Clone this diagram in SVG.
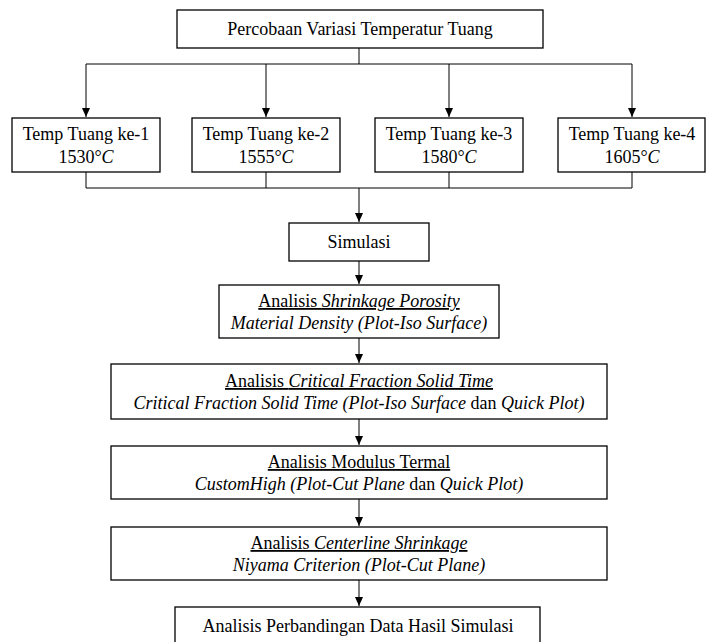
<svg xmlns="http://www.w3.org/2000/svg" width="707" height="642" viewBox="0 0 707 642">
<defs>
<style>
.box{fill:#fff;stroke:#000;stroke-width:1.3}
.c{fill:none;stroke:#000;stroke-width:1}
text{font-family:"Liberation Serif","Times New Roman",serif;font-size:18px;fill:#000;text-anchor:middle}
.i{font-style:italic}
.u{text-decoration:underline}
</style>
<marker id="ah" markerWidth="10" markerHeight="10" refX="9" refY="5" orient="auto" markerUnits="userSpaceOnUse">
<path d="M0,1 L9,5 L0,9 Z" fill="#000"/>
</marker>
</defs>
<rect width="707" height="642" fill="#fff"/>
<g id="connectors">
<path class="c" d="M359,48 V64 M86,64 H632"/>
<path class="c" d="M86,64 V117" marker-end="url(#ah)"/>
<path class="c" d="M266,64 V117" marker-end="url(#ah)"/>
<path class="c" d="M449,64 V117" marker-end="url(#ah)"/>
<path class="c" d="M632,64 V117" marker-end="url(#ah)"/>
<path class="c" d="M86,172 V188 M266,172 V188 M449,172 V188 M632,172 V188 M86,188 H632"/>
<path class="c" d="M359,188 V222" marker-end="url(#ah)"/>
<path class="c" d="M359,261 V284" marker-end="url(#ah)"/>
<path class="c" d="M359,338 V363" marker-end="url(#ah)"/>
<path class="c" d="M359,419 V445" marker-end="url(#ah)"/>
<path class="c" d="M359,499 V526" marker-end="url(#ah)"/>
<path class="c" d="M359,580 V606" marker-end="url(#ah)"/>
</g>
<g id="n0">
<rect class="box" x="177" y="10" width="366" height="38"/>
<text x="360" y="35">Percobaan Variasi Temperatur Tuang</text>
</g>
<g id="n1">
<rect class="box" x="12" y="118" width="148" height="54"/>
<text x="86" y="140">Temp Tuang ke-1</text>
<text x="86" y="163">1530°<tspan class="i">C</tspan></text>
</g>
<g id="n2">
<rect class="box" x="192" y="118" width="148" height="54"/>
<text x="266" y="140">Temp Tuang ke-2</text>
<text x="266" y="163">1555°<tspan class="i">C</tspan></text>
</g>
<g id="n3">
<rect class="box" x="375" y="118" width="148" height="54"/>
<text x="449" y="140">Temp Tuang ke-3</text>
<text x="449" y="163">1580°<tspan class="i">C</tspan></text>
</g>
<g id="n4">
<rect class="box" x="558" y="118" width="147" height="54"/>
<text x="632" y="140">Temp Tuang ke-4</text>
<text x="632" y="163">1605°<tspan class="i">C</tspan></text>
</g>
<g id="n5">
<rect class="box" x="289" y="223" width="140" height="38"/>
<text x="359" y="248">Simulasi</text>
</g>
<g id="n6">
<rect class="box" x="219" y="285" width="280" height="53"/>
<text x="359" y="307" class="u">Analisis <tspan class="i">Shrinkage Porosity</tspan></text>
<text x="359" y="329" class="i">Material Density (Plot-Iso Surface)</text>
</g>
<g id="n7">
<rect class="box" x="111" y="364" width="496" height="55"/>
<text x="359" y="387" class="u">Analisis <tspan class="i">Critical Fraction Solid Time</tspan></text>
<text x="359" y="409"><tspan class="i">Critical Fraction Solid Time (Plot-Iso Surface</tspan> dan <tspan class="i">Quick Plot)</tspan></text>
</g>
<g id="n8">
<rect class="box" x="111" y="446" width="496" height="53"/>
<text x="359" y="468" class="u">Analisis Modulus Termal</text>
<text x="359" y="490"><tspan class="i">CustomHigh (Plot-Cut Plane</tspan> dan <tspan class="i">Quick Plot)</tspan></text>
</g>
<g id="n9">
<rect class="box" x="111" y="527" width="496" height="53"/>
<text x="359" y="549" class="u">Analisis <tspan class="i">Centerline Shrinkage</tspan></text>
<text x="359" y="571" class="i">Niyama Criterion (Plot-Cut Plane)</text>
</g>
<g id="n10">
<rect class="box" x="175" y="607" width="365" height="45"/>
<text x="358" y="632">Analisis Perbandingan Data Hasil Simulasi</text>
</g>
</svg>
